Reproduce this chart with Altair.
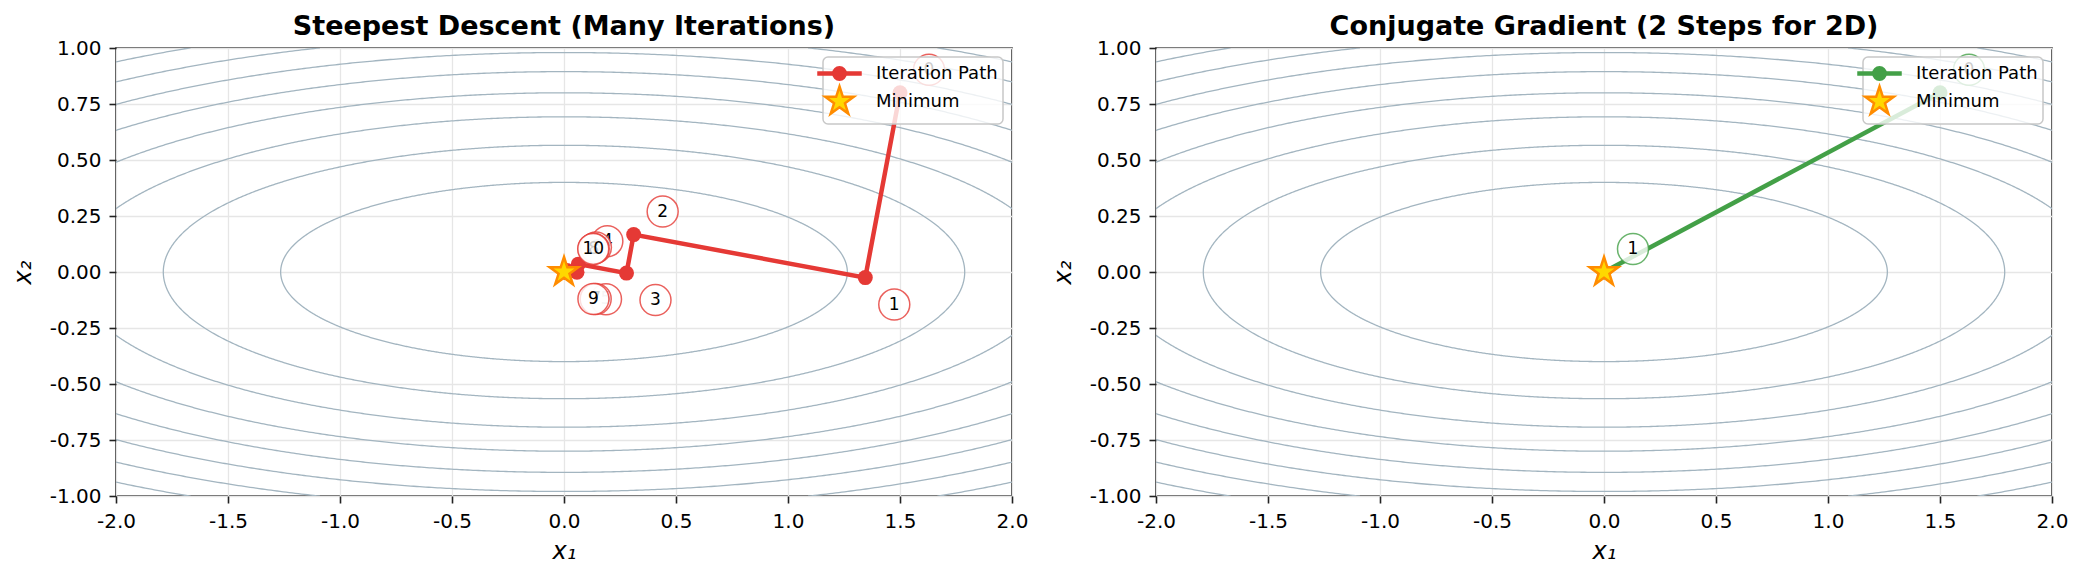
import math
import numpy as np
import pandas as pd
import altair as alt

# Quadratic test function f(x) = 0.5 * (A11 * x1^2 + A22 * x2^2)
A11, A22 = 1.0, 10.0
contour_levels = [0.8, 1.6, 2.4, 3.2, 4.0, 4.8, 5.6, 6.4]

# Steepest-descent iterates (zig-zag towards the minimum)
sd_x1 = [1.500, 1.345, 0.311, 0.279, 0.064, 0.058, 0.013, 0.012, 0.003, 0.002, 0.001]
sd_x2 = [0.800, -0.025, 0.167, -0.005, 0.035, -0.001, 0.007, -0.0002, 0.0015, -0.00005, 0.0003]

# Conjugate-gradient iterates
cg_x1 = [1.5, 0.0]
cg_x2 = [0.8, 0.0]

# Location of the minimum
min_x1 = [0.0]
min_x2 = [0.0]

x_ticks = [-2.0, -1.5, -1.0, -0.5, 0.0, 0.5, 1.0, 1.5, 2.0]
y_ticks = [-1.0, -0.75, -0.5, -0.25, 0.0, 0.25, 0.5, 0.75, 1.0]
X_DOMAIN = [-2.0, 2.0]
Y_DOMAIN = [-1.0, 1.0]

legend_names = ["Iteration Path", "Minimum"]

RED = "#e53935"
GREEN = "#43a047"
GOLD = "#ffd700"
ORANGE = "#ff8c00"
CONTOUR = "#a3b5c0"
FONT = "DejaVu Sans"

W, H = 896, 448


def star_path(outer, inner):
    pts = []
    for k in range(10):
        ang = math.radians(-90 + 36 * k)
        r = outer if k % 2 == 0 else inner
        pts.append(f"{r * math.cos(ang):.4f},{r * math.sin(ang):.4f}")
    return "M" + " L".join(pts) + " Z"


STAR = star_path(1.0, 0.382)
# legend glyphs: unit = 10 px (symbolSize 400)
LEGEND_STAR = star_path(1.5, 1.5 * 0.382)
LEGEND_LINE = ("M-2.1,-0.1 L2.1,-0.1 L2.1,0.1 L-2.1,0.1 Z "
               "M0.62,0 A0.62,0.62 0 1,1 -0.62,0 A0.62,0.62 0 1,1 0.62,0 Z")

# contour ellipses of the quadratic; only the parts inside the frame are kept,
# split into separate runs (plus one point beyond the edge so lines reach it)
t = np.linspace(0, 2 * np.pi, 1441)
rows = []
for lev in contour_levels:
    a = math.sqrt(2 * lev / A11)
    b = math.sqrt(2 * lev / A22)
    xs = a * np.cos(t)
    ys = b * np.sin(t)
    inside = (np.abs(xs) <= X_DOMAIN[1]) & (np.abs(ys) <= Y_DOMAIN[1])
    keep = inside.copy()
    keep[1:] |= inside[:-1]
    keep[:-1] |= inside[1:]
    seg = 0
    prev = False
    for k in range(len(t)):
        if keep[k]:
            if not prev:
                seg += 1
            rows.append({"curve": f"{lev}-{seg}", "k": k, "x1": xs[k], "x2": ys[k]})
        prev = bool(keep[k])
contour_df = pd.DataFrame(rows)

minus_fix = "replace(datum.label, '\u2212', '-')"


def X():
    return alt.X("x1:Q", scale=alt.Scale(domain=X_DOMAIN, nice=False, zero=False),
                 axis=alt.Axis(values=x_ticks, format=".1f", labelExpr=minus_fix,
                               labelFlush=False, title="x\u2081"))


def Y():
    return alt.Y("x2:Q", scale=alt.Scale(domain=Y_DOMAIN, nice=False, zero=False),
                 axis=alt.Axis(values=y_ticks, format=".2f", labelExpr=minus_fix,
                               labelFlush=False, title="x\u2082"))


def panel(title, xs, ys, color):
    path_df = pd.DataFrame({"i": list(range(len(xs))), "x1": xs, "x2": ys})
    star_df = pd.DataFrame({"x1": min_x1, "x2": min_x2})
    legend_df = pd.DataFrame({"name": legend_names})

    contours = alt.Chart(contour_df).mark_line(
        clip=True, color=CONTOUR, strokeWidth=1.3
    ).encode(x=X(), y=Y(), detail="curve:N", order="k:Q")

    path = alt.Chart(path_df).mark_line(
        color=color, strokeWidth=4.5,
        point=alt.OverlayMarkDef(filled=True, size=225, color=color, opacity=1),
    ).encode(x=X(), y=Y(), order="i:Q")

    layers = [contours, path]

    # numbered bubbles next to each iterate, later ones on top
    for i, v in enumerate(ys):
        dy = -23 if v >= 0 else 27
        sub = alt.Chart(path_df).transform_filter(alt.datum.i == i)
        bubble = sub.mark_point(
            shape="circle", size=961, filled=False, fill="white", fillOpacity=0.8,
            stroke=color, strokeOpacity=0.8, strokeWidth=1.5, xOffset=29, yOffset=dy,
        ).encode(x=X(), y=Y())
        num = sub.mark_text(
            font=FONT, fontSize=17, color="black", dx=29, dy=dy, baseline="middle", align="center",
        ).encode(x=X(), y=Y(), text="i:N")
        layers += [bubble, num]

    star = alt.Chart(star_df).mark_point(
        shape=STAR, size=900, filled=True, fill=GOLD, stroke=ORANGE, strokeWidth=2.5, opacity=1,
    ).encode(x=X(), y=Y())
    layers.append(star)

    leg = alt.Legend(title=None)
    key = alt.Chart(legend_df).mark_point(filled=True, clip=True, opacity=1, strokeWidth=2.5).encode(
        x=alt.value(W / 2), y=alt.value(-300),
        color=alt.Color("name:N", scale=alt.Scale(domain=legend_names, range=[color, GOLD]), legend=leg),
        stroke=alt.Stroke("name:N", scale=alt.Scale(domain=legend_names, range=[color, ORANGE]), legend=leg),
        shape=alt.Shape("name:N", scale=alt.Scale(domain=legend_names, range=[LEGEND_LINE, LEGEND_STAR]), legend=leg),
    )
    layers.append(key)

    return alt.layer(*layers).properties(
        width=W, height=H,
        title=alt.TitleParams(title, fontSize=27, fontWeight="bold", font=FONT, anchor="middle",
                              frame="group", offset=-24, baseline="alphabetic"),
    ).resolve_scale(color="independent", stroke="independent", shape="independent")


left = panel("Steepest Descent (Many Iterations)", sd_x1, sd_x2, RED)
right = panel("Conjugate Gradient (2 Steps for 2D)", cg_x1, cg_x2, GREEN)

chart = alt.hconcat(left, right, spacing=21).resolve_scale(
    color="independent", stroke="independent", shape="independent"
).resolve_legend(color="independent", stroke="independent", shape="independent").properties(
    padding={"left": 10, "top": 12, "right": 5, "bottom": 5}
).configure(font=FONT).configure_view(
    stroke="#222222", strokeWidth=1.6
).configure_axis(
    domain=False, tickColor="#222222", tickWidth=1.6, tickSize=7,
    labelFont=FONT, labelFontSize=20, labelColor="black", labelPadding=8,
    titleFont=FONT, titleFontSize=24, titleFontStyle="italic", titleFontWeight="normal", titleColor="black",
    gridColor="#e6e6e6", gridWidth=1.3,
).configure_axisY(titlePadding=14).configure_axisX(titlePadding=8).configure_legend(
    orient="top-right", offset=9, fillColor="rgba(255,255,255,0.8)", strokeColor="#c8c8c8",
    strokeWidth=1.5, cornerRadius=5, padding=5, labelFont=FONT, labelFontSize=18, labelColor="black",
    labelOffset=25, symbolSize=400, symbolStrokeWidth=2.5, rowPadding=-4,
)

chart.save("out.html", embed_options={"renderer": "svg", "actions": False})
